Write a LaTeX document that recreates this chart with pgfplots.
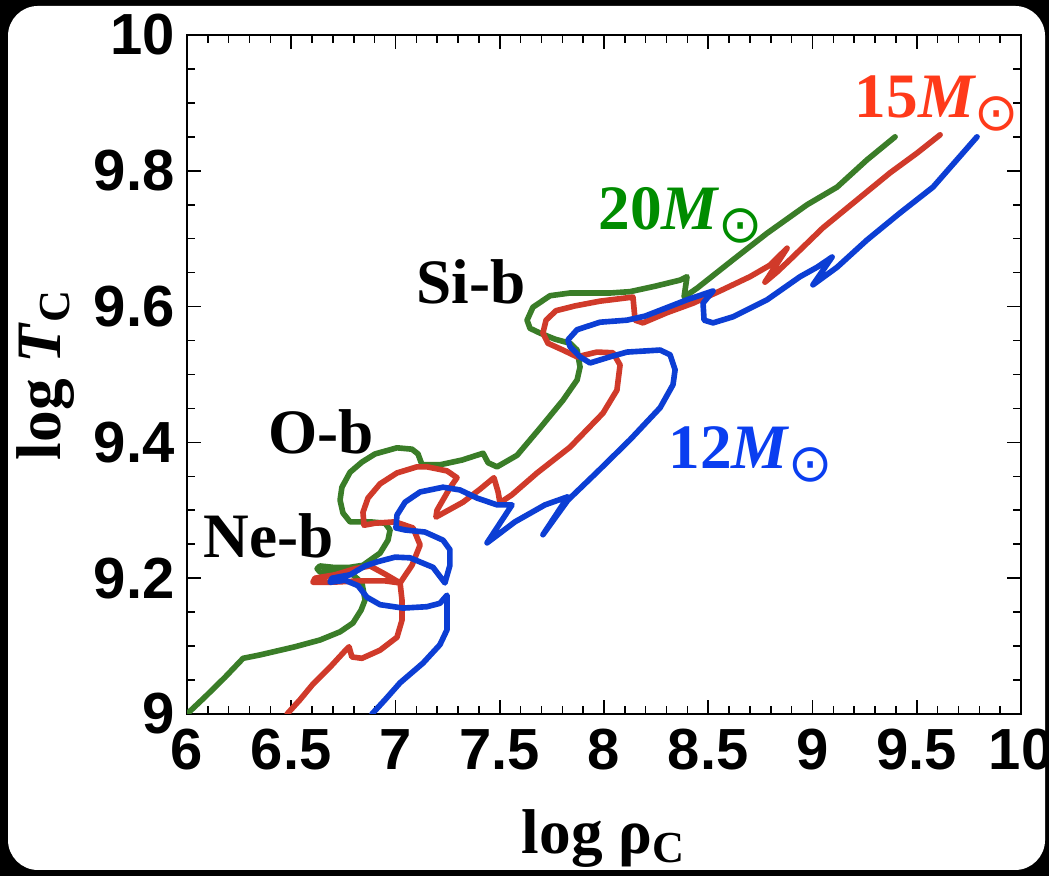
\documentclass[border=0pt]{standalone}
\usepackage{pgfplots}
\pgfplotsset{compat=1.18}
\usepackage{fontspec}
\setmainfont{Liberation Serif}
\newfontfamily\hv{Liberation Sans}
\newfontfamily\dvs{DejaVu Sans}

\definecolor{trkgreen}{RGB}{58,125,40}
\definecolor{trkred}{RGB}{208,58,42}
\definecolor{trkblue}{RGB}{12,62,212}
\definecolor{lblgreen}{RGB}{0,140,0}
\definecolor{lblred}{RGB}{255,58,26}
\definecolor{lblblue}{RGB}{10,62,240}

\newcommand{\msun}{\textit{M}\kern-0.5pt\raisebox{-0.45ex}{\dvs\mdseries\fontsize{15}{15}\selectfont ⊙}}

\begin{document}
\begin{tikzpicture}
% black frame with rounded white card
\fill[black] (0,0) rectangle (104.9mm,87.6mm);
\fill[white, rounded corners=3mm] (0.8mm,0.6mm) rectangle (104.5mm,87.0mm);

\begin{axis}[
  at={(18.7mm,16.2mm)}, anchor=south west,
  scale only axis, width=83.4mm, height=67.9mm,
  xmin=6, xmax=10, ymin=9, ymax=10,
  xtick={6,6.5,7,7.5,8,8.5,9,9.5,10},
  ytick={9,9.2,9.4,9.6,9.8,10},
  minor x tick num=4, minor y tick num=3,
  tick align=inside,
  major tick length=1.4mm, minor tick length=0.8mm,
  every tick/.style={black, line width=0.45pt},
  axis line style={line width=0.7pt},
  /pgf/number format/assume math mode=true,
  ticklabel style={font=\hv\bfseries\fontsize{16.5}{16.5}\selectfont},
  xticklabel style={yshift=-0.3mm},
  xlabel={\bfseries log ρ\textsubscript{C}},
  ylabel={\bfseries log \textit{T}\textsubscript{C}},
  label style={font=\fontsize{18}{20}\selectfont},
  xlabel style={yshift=-1.5mm},
  ylabel style={yshift=-0.5mm},
  every axis plot/.style={line width=1.6pt, line join=round, line cap=round},
]
% 20 Msun
\addplot[trkgreen] coordinates {
(6.000,9.000) (6.086,9.025) (6.182,9.054) (6.269,9.082) (6.350,9.087) (6.518,9.099)
(6.638,9.109) (6.734,9.121) (6.796,9.134) (6.835,9.153) (6.854,9.168) (6.839,9.193)
(6.796,9.205) (6.748,9.209) (6.638,9.209) (6.624,9.214) (6.638,9.218) (6.700,9.216)
(6.782,9.216) (6.844,9.219) (6.926,9.237) (6.964,9.256) (6.974,9.271) (6.950,9.281)
(6.878,9.283) (6.782,9.283) (6.748,9.296) (6.734,9.315) (6.743,9.334) (6.782,9.356)
(6.839,9.371) (6.902,9.383) (7.007,9.392) (7.079,9.390) (7.108,9.383) (7.127,9.367)
(7.213,9.367) (7.319,9.374) (7.420,9.384) (7.444,9.370) (7.487,9.364) (7.583,9.381)
(7.693,9.421) (7.803,9.462) (7.871,9.492) (7.885,9.511) (7.871,9.536) (7.837,9.546)
(7.765,9.552) (7.693,9.561) (7.645,9.568) (7.631,9.580) (7.659,9.599) (7.741,9.616)
(7.837,9.620) (8.029,9.620) (8.125,9.622) (8.245,9.630) (8.365,9.639) (8.398,9.644)
(8.384,9.614) (8.446,9.627) (8.619,9.669) (8.782,9.708) (8.974,9.750) (9.118,9.776)
(9.261,9.816) (9.396,9.850)
};
% 15 Msun
\addplot[trkred] coordinates {
(6.480,9.000) (6.542,9.021) (6.604,9.044) (6.686,9.069) (6.758,9.093) (6.777,9.099)
(6.791,9.084) (6.839,9.082) (6.926,9.094) (7.007,9.113) (7.031,9.138) (7.031,9.168)
(7.022,9.193) (6.950,9.206) (6.878,9.218) (6.806,9.214) (6.710,9.205) (6.614,9.200)
(6.604,9.194) (6.686,9.194) (6.830,9.196) (6.950,9.196) (7.022,9.193) (7.079,9.219)
(7.118,9.249) (7.084,9.274) (6.998,9.283) (6.902,9.281) (6.849,9.278) (6.844,9.297)
(6.868,9.318) (6.926,9.339) (7.007,9.355) (7.103,9.364) (7.151,9.364) (7.247,9.358)
(7.295,9.348) (7.261,9.333) (7.199,9.300) (7.194,9.290) (7.324,9.312) (7.405,9.331)
(7.472,9.348) (7.492,9.327) (7.501,9.311) (7.559,9.323) (7.679,9.355) (7.837,9.393)
(7.995,9.443) (8.062,9.477) (8.077,9.514) (8.043,9.532) (7.966,9.533) (7.871,9.526)
(7.803,9.536) (7.731,9.546) (7.707,9.561) (7.722,9.580) (7.770,9.594) (7.861,9.601)
(7.981,9.608) (8.139,9.614) (8.149,9.580) (8.187,9.576) (8.302,9.591) (8.427,9.605)
(8.556,9.623) (8.700,9.644) (8.796,9.661) (8.878,9.686) (8.825,9.661) (8.772,9.636)
(8.830,9.651) (8.892,9.669) (9.050,9.716) (9.213,9.757) (9.372,9.797) (9.501,9.826)
(9.612,9.853)
};
% 12 Msun
\addplot[trkblue] coordinates {
(6.887,9.000) (6.950,9.021) (7.022,9.046) (7.132,9.075) (7.213,9.102) (7.247,9.124)
(7.247,9.175) (7.213,9.163) (7.151,9.158) (7.036,9.156) (6.926,9.161) (6.863,9.172)
(6.820,9.189) (6.758,9.197) (6.686,9.194) (6.695,9.200) (6.782,9.205) (6.854,9.218)
(6.911,9.224) (6.998,9.231) (7.070,9.230) (7.180,9.216) (7.237,9.193) (7.261,9.219)
(7.261,9.242) (7.228,9.256) (7.141,9.268) (7.046,9.271) (7.002,9.274) (7.007,9.293)
(7.046,9.312) (7.118,9.327) (7.228,9.334) (7.309,9.330) (7.391,9.318) (7.487,9.308)
(7.559,9.308) (7.439,9.252) (7.573,9.283) (7.717,9.308) (7.827,9.320) (7.707,9.264)
(7.827,9.315) (7.966,9.356) (8.125,9.404) (8.269,9.451) (8.331,9.485) (8.341,9.507)
(8.317,9.529) (8.269,9.536) (8.110,9.533) (8.029,9.526) (7.933,9.517) (7.885,9.526)
(7.837,9.541) (7.827,9.551) (7.871,9.566) (7.981,9.577) (8.110,9.580) (8.197,9.586)
(8.398,9.610) (8.523,9.623) (8.475,9.605) (8.480,9.580) (8.523,9.576) (8.619,9.585)
(8.782,9.610) (8.940,9.644) (9.022,9.658) (9.094,9.673) (9.002,9.632) (9.118,9.658)
(9.261,9.698) (9.420,9.738) (9.578,9.776) (9.789,9.850)
};

\begin{scope}[font=\bfseries\fontsize{18}{20}\selectfont, inner sep=0pt]
\node[anchor=base west, text=lblred] at (axis cs:9.200,9.879) {15\msun};
\node[anchor=base west, text=lblgreen] at (axis cs:7.971,9.713) {20\msun};
\node[anchor=base west, text=lblblue] at (axis cs:8.307,9.362) {12\msun};
\node[anchor=base west] at (axis cs:7.098,9.605) {Si-b};
\node[anchor=base west] at (axis cs:6.388,9.384) {O-b};
\node[anchor=base west] at (axis cs:6.077,9.231) {Ne-b};
\end{scope}
\end{axis}
\pgfresetboundingbox
\useasboundingbox (0,0) rectangle (104.9mm,87.6mm);
\end{tikzpicture}
\end{document}
